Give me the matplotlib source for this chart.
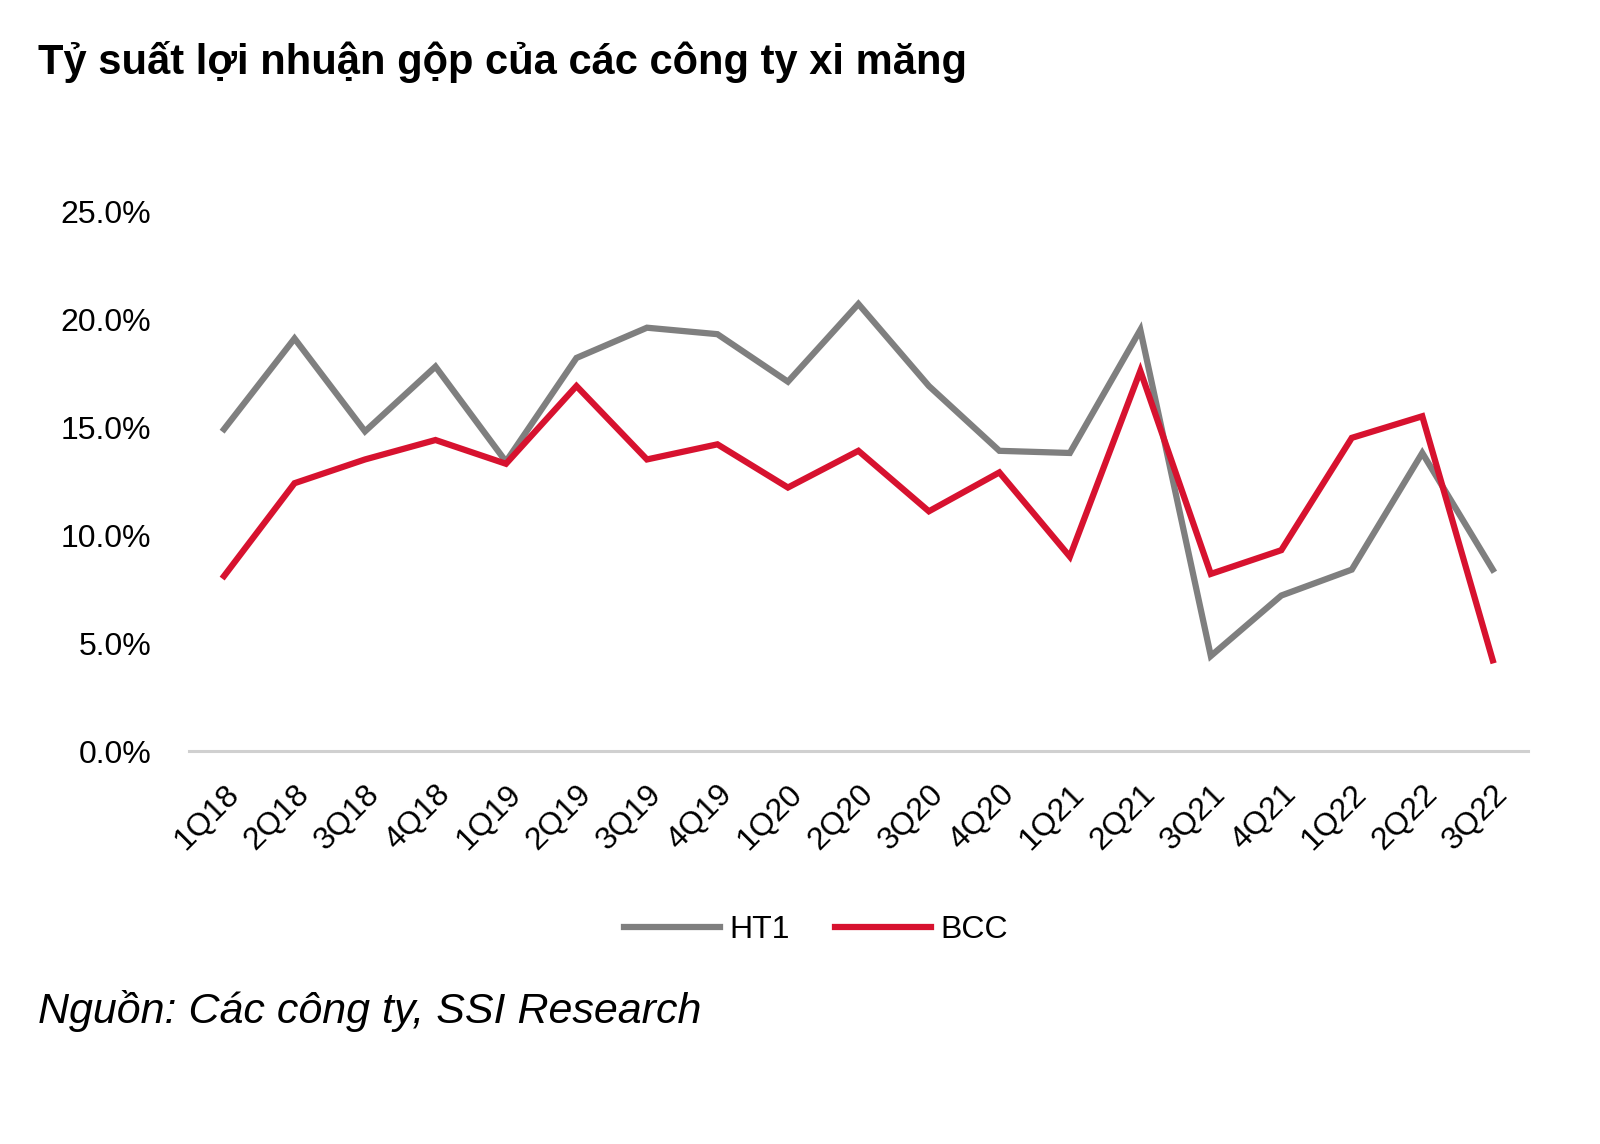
import matplotlib
matplotlib.use("Agg")
import matplotlib.pyplot as plt
import numpy as np
from matplotlib.ticker import FuncFormatter

quarters = ["1Q18", "2Q18", "3Q18", "4Q18", "1Q19", "2Q19", "3Q19", "4Q19",
            "1Q20", "2Q20", "3Q20", "4Q20", "1Q21", "2Q21", "3Q21", "4Q21",
            "1Q22", "2Q22", "3Q22"]
ht1 = [14.9, 19.1, 14.8, 17.8, 13.4, 18.2, 19.6, 19.3, 17.1, 20.7,
       16.9, 13.9, 13.8, 19.5, 4.4, 7.2, 8.4, 13.8, 8.4]
bcc = [8.1, 12.4, 13.5, 14.4, 13.3, 16.9, 13.5, 14.2, 12.2, 13.9,
       11.1, 12.9, 9.0, 17.6, 8.2, 9.3, 14.5, 15.5, 4.2]
y_ticks = [0, 5, 10, 15, 20, 25]

title = "Tỷ suất lợi nhuận gộp của các công ty xi măng"
source = "Nguồn: Các công ty, SSI Research"

# no narrow font installed, so Liberation Sans a bit smaller
plt.rcParams["font.family"] = ["Liberation Sans", "DejaVu Sans"]

fig = plt.figure(figsize=(16, 11.44), dpi=100)
ax = fig.add_axes([0.118, 0.3435, 0.837, 0.472])

x = np.arange(len(quarters))
ax.plot(x, ht1, color="#7f7f7f", lw=4.5, label="HT1", solid_joinstyle="miter")
ax.plot(x, bcc, color="#d7122f", lw=4.5, label="BCC", solid_joinstyle="miter")

ax.set_xlim(-0.5, len(quarters) - 0.5)
ax.set_ylim(0, 25)
ax.set_yticks(y_ticks)
ax.yaxis.set_major_formatter(FuncFormatter(lambda v, p: f"{v:.1f}%"))
ax.set_xticks(x)
ax.set_xticklabels(quarters, rotation=45, ha="right", rotation_mode="anchor")

for s in ["top", "right", "left"]:
    ax.spines[s].set_visible(False)
ax.spines["bottom"].set_color("#d0d0d0")
ax.spines["bottom"].set_linewidth(2.2)
ax.tick_params(axis="both", length=0, labelsize=23, colors="black")
ax.tick_params(axis="y", pad=27)
ax.tick_params(axis="x", pad=20)

fig.legend(loc="center", bbox_to_anchor=(0.51, 0.187), ncol=2, frameon=False,
           fontsize=23, handlelength=3.0, handletextpad=0.3, columnspacing=1.4)

fig.text(0.024, 0.935, title, fontsize=30, fontweight="bold", ha="left", va="baseline")
fig.text(0.024, 0.106, source, fontsize=31, fontstyle="italic", ha="left", va="baseline")

fig.savefig("out.png", dpi=100)
